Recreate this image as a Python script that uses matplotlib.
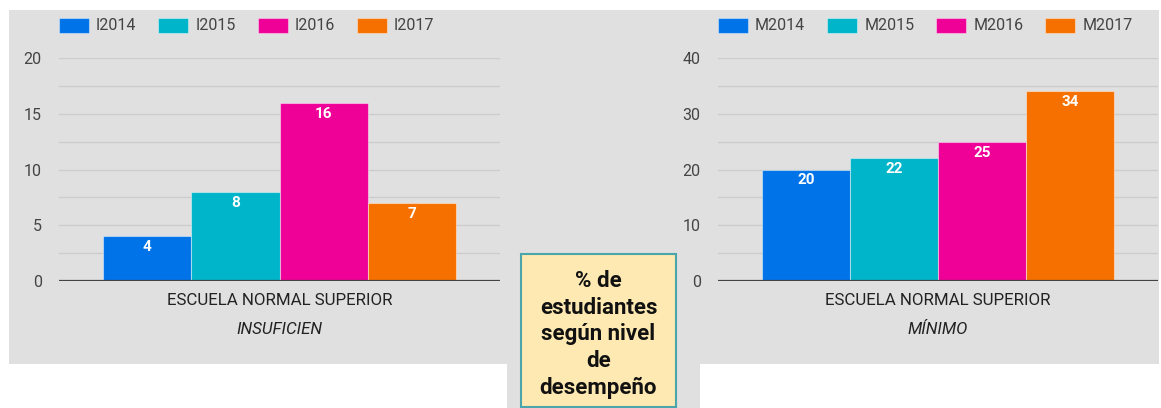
import matplotlib
matplotlib.use("Agg")
import matplotlib.pyplot as plt
from matplotlib.patches import Rectangle
import numpy as np

plt.rcParams['font.family'] = ['Roboto', 'DejaVu Sans']

# ---- data ----
category = ["ESCUELA NORMAL SUPERIOR"]
left_title = "INSUFICIEN"
right_title = "MÍNIMO"
left_series = ["I2014", "I2015", "I2016", "I2017"]
left_values = [4, 8, 16, 7]
right_series = ["M2014", "M2015", "M2016", "M2017"]
right_values = [20, 22, 25, 34]
left_yticks = [0, 5, 10, 15, 20]
right_yticks = [0, 10, 20, 30, 40]
box_text = "% de\nestudiantes\nsegún nivel\nde\ndesempeño"

colors = ["#0073e9", "#00b5ca", "#ef0097", "#f67000"]
BG = "#e0e0e0"

W, H = 1161, 408
fig = plt.figure(figsize=(W / 100, H / 100), dpi=100)
fig.patch.set_facecolor("white")

def fx(px):
    return px / W

def fy(py):
    return 1 - py / H

# gray backgrounds
fig.add_artist(Rectangle((fx(9), fy(364)), fx(1150), (364 - 10) / H,
                         transform=fig.transFigure, facecolor=BG, edgecolor="none", zorder=0))
fig.add_artist(Rectangle((fx(507), 0), fx(193), fy(364),
                         transform=fig.transFigure, facecolor=BG, edgecolor="none", zorder=0))


def draw_panel(left_px, right_px, series, values, yticks, title):
    ax = fig.add_axes([fx(left_px), fy(281), fx(right_px - left_px), (281 - 58) / H])
    ax.set_facecolor("none")
    n = len(series)
    width = 0.8 / n
    offsets = (np.arange(n) - (n - 1) / 2) * width
    ymax = yticks[-1]
    step = yticks[1] - yticks[0]
    # grid lines (major + minor)
    for g in np.arange(step / 2, ymax + 0.001, step / 2):
        ax.axhline(g, color="#cccccc", lw=1.0, zorder=1)
    bars = ax.bar(offsets, values, width=width, color=colors[:n],
                  edgecolor=(1, 1, 1, 0.45), linewidth=0.8, zorder=2)
    ax.axhline(0, color="#444444", lw=1.6, zorder=3)
    for b, v in zip(bars, values):
        ax.annotate(str(v), (b.get_x() + b.get_width() / 2, v), xytext=(0, -11),
                    textcoords="offset pixels", ha="center", va="center",
                    color="white", fontsize=11, fontweight="bold", zorder=4)
    ax.set_xlim(-0.5, 0.5)
    ax.set_ylim(0, ymax)
    ax.set_yticks(yticks)
    ax.set_yticklabels([str(t) for t in yticks])
    ax.tick_params(axis="y", length=0, pad=12.5, labelsize=11.5, labelcolor="#444444")
    ax.set_xticks([])
    for s in ax.spines.values():
        s.set_visible(False)
    cx = (left_px + right_px) / 2
    fig.text(fx(cx), fy(300.5), category[0], ha="center", va="center",
             fontsize=12.2, color="#222222")
    fig.text(fx(cx), fy(330), title, ha="center", va="center",
             fontsize=12.2, color="#222222", style="italic")
    # legend
    fig.canvas.draw()
    r = fig.canvas.get_renderer()
    x = left_px
    for s, c in zip(series, colors):
        fig.add_artist(Rectangle((fx(x), fy(33)), fx(30), 15 / H, transform=fig.transFigure,
                                 facecolor=c, edgecolor=(1, 1, 1, 0.4), lw=0.8))
        t = fig.text(fx(x + 37), fy(26), s, ha="left", va="center",
                     fontsize=11.5, color="#444444")
        wpx = t.get_window_extent(renderer=r).width
        x = x + 37 + wpx + 22
    return ax


draw_panel(59, 500, left_series, left_values, left_yticks, left_title)
draw_panel(718, 1158, right_series, right_values, right_yticks, right_title)

# yellow box
fig.add_artist(Rectangle((fx(521), fy(407)), fx(155), (407 - 254) / H,
                         transform=fig.transFigure, facecolor="#fde9b1",
                         edgecolor="#4aa6ab", lw=1.5, zorder=5))
fig.text(fx(598.5), fy(334.5), box_text, ha="center", va="center",
         fontsize=16, fontweight="bold", color="#111111", linespacing=1.28, zorder=6)

fig.savefig("out.png", dpi=100, facecolor=fig.get_facecolor())
